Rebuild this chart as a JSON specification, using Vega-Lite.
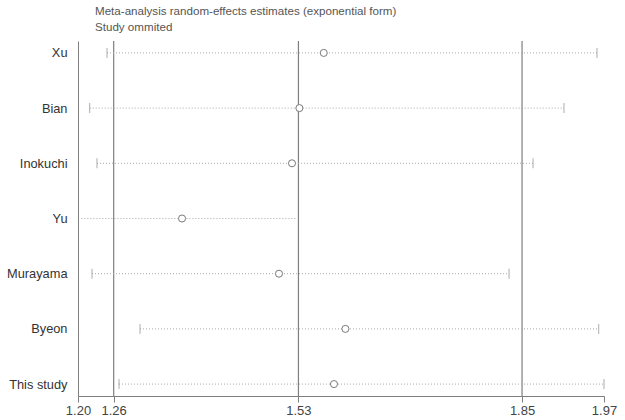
{
  "$schema": "https://vega.github.io/schema/vega-lite/v6.json",
  "autosize": "none",
  "width": 526,
  "height": 355,
  "padding": {"left": 78, "top": 41, "right": 21, "bottom": 24},
  "background": "white",
  "config": {
    "view": {"stroke": null},
    "font": "Liberation Sans"
  },
  "title": {
    "text": ["Meta-analysis random-effects estimates (exponential form)", "Study ommited"],
    "anchor": "start",
    "frame": "group",
    "dx": 17,
    "offset": 7,
    "fontSize": 11.6,
    "fontWeight": "normal",
    "color": "#555555",
    "font": "Liberation Sans",
    "lineHeight": 16
  },
  "datasets": {
    "studies": [
      {"study": "Xu", "est": 1.5619, "lo": 1.2467, "hi": 1.9593, "cap": true},
      {"study": "Bian", "est": 1.5265, "lo": 1.2215, "hi": 1.9113, "cap": true},
      {"study": "Inokuchi", "est": 1.5157, "lo": 1.2321, "hi": 1.8663, "cap": true},
      {"study": "Yu", "est": 1.3558, "lo": 1.2094, "hi": 1.5211, "cap": false},
      {"study": "Murayama", "est": 1.4968, "lo": 1.2249, "hi": 1.8314, "cap": true},
      {"study": "Byeon", "est": 1.5934, "lo": 1.2947, "hi": 1.9618, "cap": true},
      {"study": "This study", "est": 1.5768, "lo": 1.2641, "hi": 1.9695, "cap": true}
    ],
    "refs": [
      {"v": 1.2564},
      {"v": 1.5251},
      {"v": 1.8503}
    ]
  },
  "layer": [
    {
      "data": {"name": "refs"},
      "mark": {"type": "rule", "color": "#7f7f7f", "strokeWidth": 1.2},
      "encoding": {
        "x": {"field": "v", "type": "quantitative", "scale": {"domain": [1.2045, 1.9695], "nice": false, "zero": false}}
      }
    },
    {
      "data": {"name": "studies"},
      "mark": {"type": "rule", "color": "#a8a8a8", "strokeWidth": 1, "strokeDash": [1, 2]},
      "encoding": {
        "x": {"field": "lo", "type": "quantitative"},
        "x2": {"field": "hi"},
        "y": {"field": "study", "type": "nominal", "sort": null}
      }
    },
    {
      "data": {"name": "studies"},
      "transform": [{"filter": "datum.cap"}],
      "mark": {"type": "tick", "color": "#8a8a8a", "size": 10, "thickness": 1},
      "encoding": {
        "x": {"field": "lo", "type": "quantitative"},
        "y": {"field": "study", "type": "nominal", "sort": null}
      }
    },
    {
      "data": {"name": "studies"},
      "transform": [{"filter": "datum.cap"}],
      "mark": {"type": "tick", "color": "#8a8a8a", "size": 10, "thickness": 1},
      "encoding": {
        "x": {"field": "hi", "type": "quantitative"},
        "y": {"field": "study", "type": "nominal", "sort": null}
      }
    },
    {
      "data": {"name": "studies"},
      "mark": {"type": "point", "shape": "circle", "size": 50, "filled": false, "fill": "white", "fillOpacity": 1, "stroke": "#7a7a7a", "strokeWidth": 1, "opacity": 1},
      "encoding": {
        "x": {
          "field": "est", "type": "quantitative", "title": null,
          "axis": {
            "values": [1.2045, 1.2564, 1.5251, 1.8503, 1.9695],
            "labelExpr": "datum.value < 1.23 ? '1.20' : datum.value < 1.4 ? '1.26' : datum.value < 1.7 ? '1.53' : datum.value < 1.9 ? '1.85' : '1.97'",
            "grid": false,
            "domainColor": "#7f7f7f",
            "tickColor": "#7f7f7f",
            "tickSize": 6,
            "labelFontSize": 13,
            "labelColor": "#444444",
            "labelFont": "Liberation Sans",
            "labelOverlap": false,
            "labelBound": false,
            "labelFlush": false,
            "labelPadding": 2
          }
        },
        "y": {
          "field": "study", "type": "nominal", "sort": null, "title": null,
          "scale": {"type": "point", "padding": 0.216},
          "axis": {
            "ticks": false,
            "grid": false,
            "domainColor": "#7f7f7f",
            "labelFontSize": 12.8,
            "labelColor": "#333333",
            "labelFont": "Liberation Sans",
            "labelPadding": 11
          }
        }
      }
    }
  ]
}
